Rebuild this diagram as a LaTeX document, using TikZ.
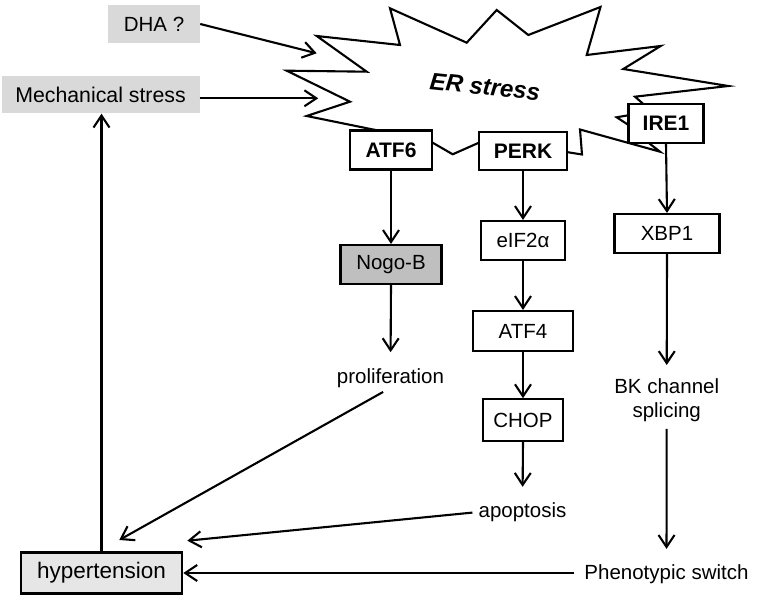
\documentclass[tikz,border=0pt]{standalone}
\usepackage{fontspec}
\setmainfont{Liberation Sans}
\usetikzlibrary{arrows.meta}
\definecolor{grayA}{HTML}{D9D9D9}
\definecolor{grayB}{HTML}{BFBFBF}
\definecolor{hypfill}{HTML}{E6E6E6}
\begin{document}
\begin{tikzpicture}[x=1pt,y=-1pt,
  lw/.style={line width=2.1pt},
  arr/.style={lw,-{Straight Barb[length=12pt,width=16pt]}},
  box/.style={draw,lw,fill=white,inner sep=0pt,font=\fontsize{20.5}{24}\selectfont},
  bbox/.style={box,font=\fontsize{21}{24}\selectfont\bfseries},
  gbox/.style={fill=grayA,inner sep=0pt,font=\fontsize{20.5}{24}\selectfont},
  lbl/.style={inner sep=0pt,font=\fontsize{20.5}{24}\selectfont,text height=14.9pt,text depth=4.3pt},
]
\useasboundingbox (0,0) rectangle (763,601);

% ER stress starburst
\draw[lw,fill=white,line join=miter,miter limit=20]
  (316.7,36) -- (400,45) -- (390,8.3) -- (466.7,42.7) -- (496.7,10) -- (528.3,35)
  -- (600.5,7) -- (586.7,55) -- (660.7,46) -- (623.3,69) -- (728.3,86) -- (635,96.7)
  -- (643.3,104) -- (630,115) -- (616.7,117.3) -- (630,126) -- (645,140) -- (660,151.7)
  -- (580,129.5) -- (582,154.5) -- (560,151) -- (485,140) -- (452.7,154.3) -- (425,138.3)
  -- (373,129.5) -- (306.7,116) -- (350,101.7) -- (286.7,70.7) -- (366.7,71.7) -- cycle;
\node[font=\fontsize{24}{28}\selectfont\bfseries\itshape,rotate=-6,inner sep=0pt] (er) at (485,86.7) {ER stress};

% boxes
\node[bbox,minimum width=82pt,minimum height=39pt] (atf6) at (391,150) {ATF6};
\node[bbox,minimum width=88pt,minimum height=38pt] (perk) at (523,151) {PERK};
\node[bbox,minimum width=75pt,minimum height=39pt] (ire1) at (666,123.5) {IRE1};
\node[box,fill=grayB,minimum width=101pt,minimum height=39pt] (nogo) at (391,264.5) {Nogo-B};
\node[box,minimum width=84pt,minimum height=39pt] (eif) at (523,240.5) {eIF2α};
\node[box,minimum width=100pt,minimum height=40pt] (atf4) at (523,331) {ATF4};
\node[box,minimum width=80pt,minimum height=41.5pt] (chop) at (523,420) {CHOP};
\node[box,minimum width=105pt,minimum height=39pt] (xbp1) at (667,233.5) {XBP1};
\node[box,fill=hypfill,minimum width=161.5pt,minimum height=41pt,font=\fontsize{22.5}{26}\selectfont] (hyp) at (101.5,573) {hypertension};
\node[gbox,minimum width=92pt,minimum height=38.5pt] (dha) at (154,24) {DHA ?};
\node[gbox,minimum width=198pt,minimum height=37.5pt,font=\fontsize{21.3}{24}\selectfont] (mech) at (100.5,94.7) {Mechanical stress};

% text labels
\node[lbl,anchor=base] (prolif) at (390.5,383.3) {proliferation};
\node[lbl,anchor=base] (apop) at (522.5,517.3) {apoptosis};
\node[inner sep=0pt,anchor=north,align=center,font=\fontsize{20.5}{23.3}\selectfont] (bk) at (666.7,378.7) {BK channel\\splicing};
\node[lbl,anchor=base] (phen) at (666.5,579) {Phenotypic switch};

% free ends
\coordinate (erA) at (316.7,53.3);
\coordinate (erB) at (318.3,98.3);
\coordinate (hA) at (119.3,540);
\coordinate (hB) at (187.3,540.7);

% connectors
\draw[arr] (dha.east) -- (erA);
\draw[arr] (mech.east |- erB) -- (erB);
\draw[arr] (hyp.north) -- (hyp.north |- mech.south);
\draw[arr] (atf6.south) -- (nogo.north);
\draw[arr,shorten >=16pt] (nogo.south) -- (prolif.north);
\draw[arr] (perk.south) -- (eif.north);
\draw[arr] (eif.south) -- (atf4.north);
\draw[arr] (atf4.south) -- (chop.north);
\draw[arr,shorten >=15.4pt] (chop.south) -- (apop.north);
\draw[arr] (ire1.south) -- (xbp1.north);
\draw[arr,shorten >=13.7pt] (xbp1.south) -- (bk.north);
\draw[arr,shorten <=7.4pt,shorten >=15pt] (bk.south) -- (phen.north);
\draw[arr,shorten <=8.5pt] (prolif.south) -- (hA);
\draw[arr,shorten <=6pt] (apop.west) -- (hB);
\draw[arr,shorten <=10pt] (hyp.east -| phen.west) -- (hyp.east);
\end{tikzpicture}
\end{document}
